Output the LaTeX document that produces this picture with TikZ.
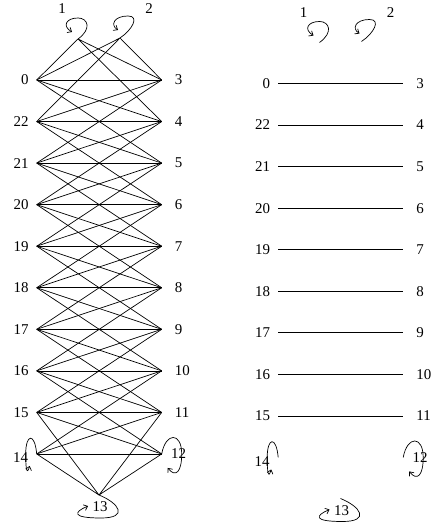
\documentclass[tikz,border=0pt]{standalone}
\usepackage{fontspec}
\setmainfont{Liberation Serif}
\usetikzlibrary{positioning,calc,arrows.meta}

\begin{document}
\begin{tikzpicture}[x=1bp, y=-1bp,
    edge/.style={line width=0.7bp},
    selfloop/.style={line width=0.7bp, -{Straight Barb[length=3.5bp,width=6bp]}},
    vlabel/.style={inner sep=0pt, font=\fontsize{15}{17}\selectfont}
  ]
  \useasboundingbox (0,0) rectangle (432,530);
  \foreach \p/\dx/\dy in {a/0/0, b/241.5/3.5}{
    \begin{scope}[shift={(\dx,\dy)}]
      \foreach \l/\r [count=\k from 0] in {0/3,22/4,21/5,20/6,19/7,18/8,17/9,16/10,15/11,14/12}{
        \coordinate (\p\l) at (36.7,80+41.55*\k);
        \coordinate (\p\r) at (161.7,80+41.55*\k);
      }
      \coordinate (\p1) at (78,39);
      \coordinate (\p2) at (120,38);
      \coordinate (\p13) at (99,495);
    \end{scope}
    \foreach \l/\r in {0/3,22/4,21/5,20/6,19/7,18/8,17/9,16/10,15/11}{
      \node[vlabel, left=8bp of \p\l] (t\p\l) {\l};
      \node[vlabel, right=13bp of \p\r] (t\p\r) {\r};
    }
    \node[vlabel] (t\p1) at ($(\p1)+(-16,-30)$) {1};
    \node[vlabel] (t\p2) at ($(\p2)+(29,-29)$) {2};
    \node[vlabel] (t\p14) at ($(\p14)+(-16,4)$) {14};
    \node[vlabel] (t\p12) at ($(\p12)+(17,0)$) {12};
    \node[vlabel] (t\p13) at ($(\p13)+(1,12)$) {13};
    \draw[selfloop] (\p1) .. controls +(14,-10) and +(10,0) .. ++(0,-21)
      .. controls +(-12,0) and +(-10,-6) .. ++(-6,14);
    \draw[selfloop] (\p2) .. controls +(12,-8) and +(12,0) .. ++(8,-22)
      .. controls +(-14,0) and +(-8,-5) .. ++(-10,14);
    \draw[selfloop] (\p14) .. controls +(-2,-22) and +(0,-20) .. ++(-11,0)
      .. controls +(0,14) and +(-3,10) .. ++(4,12);
    \draw[selfloop] (\p12) .. controls +(4,-22) and +(0,-22) .. ++(20,0)
      .. controls +(0,18) and +(8,10) .. ++(-14,14);
    \draw[selfloop] (\p13) .. controls +(20,8) and +(28,0) .. ++(2,23)
      .. controls +(-30,0) and +(-14,6) .. ++(-13,-12);
  }
  \foreach \u in {0,22,21,20,19,18,17,16,15,14}{
    \foreach \v in {3,...,12}{
      \pgfmathtruncatemacro{\s}{mod(\u+\v,23)}
      \ifnum\s>0 \ifnum\s<6 \draw[edge] (a\u) -- (a\v); \fi\fi
    }
  }
  \draw[edge] (a1) -- (a0) (a1) -- (a3) (a1) -- (a4);
  \draw[edge] (a2) -- (a22) (a2) -- (a0) (a2) -- (a3);
  \draw[edge] (a13) -- (a15) (a13) -- (a14) (a13) -- (a12) (a13) -- (a11);
  \foreach \u/\v in {0/3,22/4,21/5,20/6,19/7,18/8,17/9,16/10,15/11}
    \draw[edge] (b\u) -- (b\v);
\end{tikzpicture}
\end{document}
